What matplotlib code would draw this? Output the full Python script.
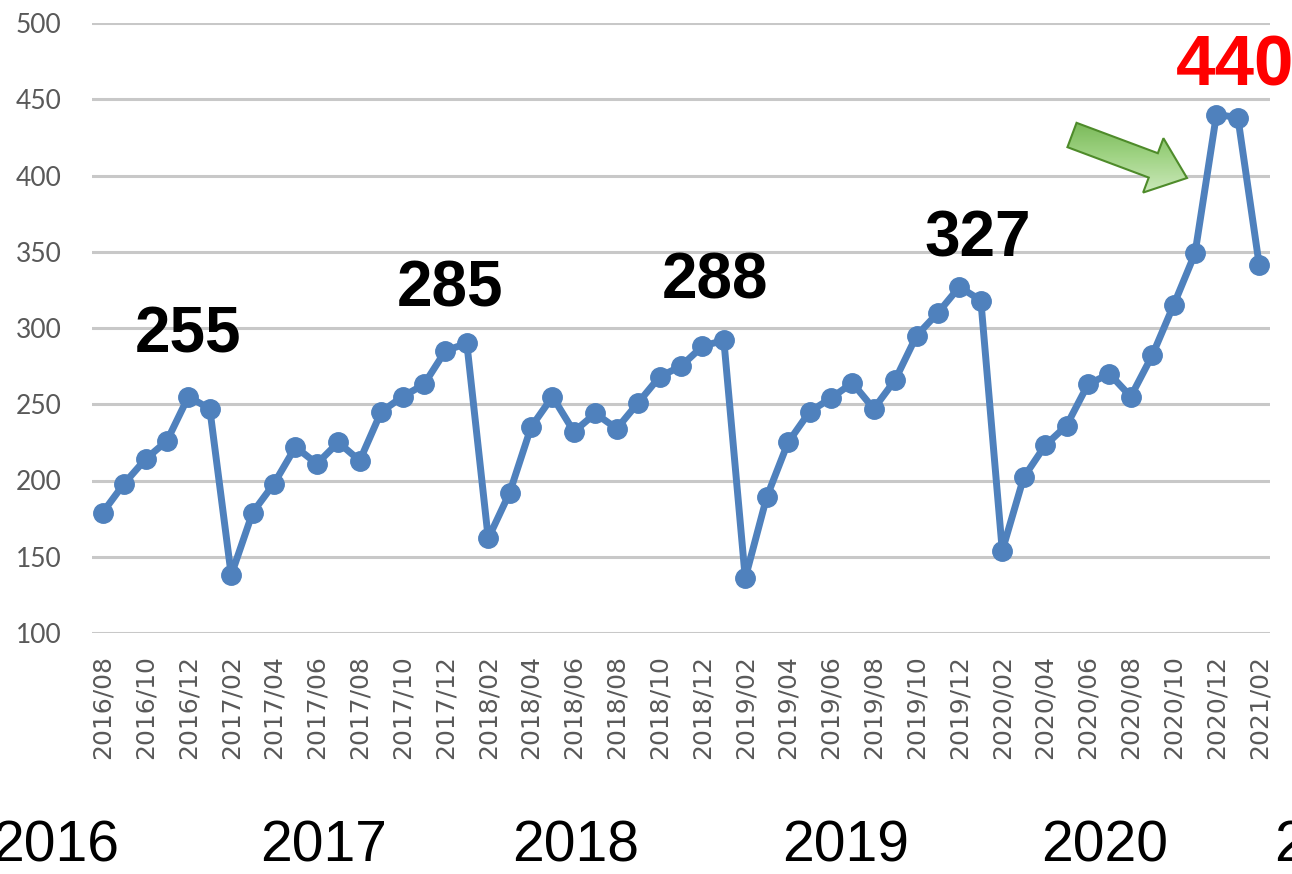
import matplotlib
matplotlib.use('Agg')
import matplotlib.pyplot as plt
import numpy as np
from matplotlib.patches import FancyArrow
from matplotlib.colors import LinearSegmentedColormap
from matplotlib.transforms import blended_transform_factory

# monthly values, 2016/08 .. 2021/02
values = [179, 198, 214, 226, 255, 247, 138,
          179, 198, 222, 211, 225, 213, 245, 255, 263, 285, 290,
          162, 192, 235, 255, 232, 244, 234, 251, 268, 275, 288, 292,
          136, 189, 225, 245, 254, 264, 247, 266, 295, 310, 327, 318,
          154, 202, 223, 236, 263, 270, 255, 282, 315, 349, 440, 438,
          341]

tick_labels = ['2016/08', '2016/10', '2016/12', '2017/02', '2017/04', '2017/06',
               '2017/08', '2017/10', '2017/12', '2018/02', '2018/04', '2018/06',
               '2018/08', '2018/10', '2018/12', '2019/02', '2019/04', '2019/06',
               '2019/08', '2019/10', '2019/12', '2020/02', '2020/04', '2020/06',
               '2020/08', '2020/10', '2020/12', '2021/02']

# peak labels: (index in values, text)
peaks = [(4, '255'), (16, '285'), (28, '288'), (40, '327')]
top_peak = (52, '440')

years = ['2016', '2017', '2018', '2019', '2020', '2021']

x = np.arange(len(values))

fig = plt.figure(figsize=(12.92, 8.74), dpi=100)
ax = fig.add_axes([92 / 1292, 241 / 874, 1178 / 1292, 610 / 874])

ax.plot(x, values, color='#4F81BD', lw=5, marker='o', ms=14,
        solid_joinstyle='round', clip_on=False, zorder=3)

ax.set_xlim(-0.5, len(values) - 0.5)
ax.set_ylim(100, 500)
ax.set_yticks(np.arange(100, 501, 50))
ax.set_xticks(x[::2])
ax.set_xticklabels(tick_labels, rotation=90, fontsize=18, color='#595959',
                   family='DejaVu Sans')
for lab in ax.get_yticklabels():
    lab.set_fontsize(19)
    lab.set_color('#595959')
    lab.set_family('Lato')
ax.tick_params(axis='both', length=0)
ax.tick_params(axis='y', pad=22)
ax.tick_params(axis='x', pad=16)
ax.yaxis.grid(True, color='#c8c8c8', lw=2.2)
ax.set_axisbelow(True)
for s in ax.spines.values():
    s.set_visible(False)

# peak annotations
offsets = {4: (0, 44), 16: (5, 44), 28: (13, 48), 40: (18, 30)}
for i, txt in peaks:
    dx, dy = offsets[i]
    ax.annotate(txt, xy=(i, values[i]), xytext=(dx * 0.72, dy * 0.72),
                textcoords='offset points', ha='center', va='baseline',
                fontsize=46, fontweight='bold', family='Liberation Sans',
                color='black', annotation_clip=False)
ax.annotate(top_peak[1], xy=(top_peak[0], values[top_peak[0]]),
            xytext=(-41 * 0.72, 29 * 0.72), textcoords='offset points',
            ha='left', va='baseline', fontsize=51, fontweight='bold',
            family='Liberation Sans', color='#FF0000', annotation_clip=False)

# green arrow pointing at the peak, drawn on a pixel-sized overlay
ov = fig.add_axes([0, 0, 1, 1], zorder=5)
ov.set_xlim(0, 1292)
ov.set_ylim(874, 0)
ov.axis('off')
arrow = FancyArrow(1072, 135, 115, 43, width=26, head_width=58,
                   head_length=36, length_includes_head=True,
                   facecolor='none', edgecolor='#4E8B2A', lw=1.5, zorder=6)
ov.add_patch(arrow)
grad = LinearSegmentedColormap.from_list('g', ['#d3ecc4', '#9fd383', '#6db04a'])
img = ov.imshow(np.linspace(0, 1, 100).reshape(-1, 1), cmap=grad,
                extent=(1060, 1195, 110, 200), aspect='auto', zorder=5)
img.set_clip_path(arrow)
ov.set_xlim(0, 1292)
ov.set_ylim(874, 0)

# year labels below the axis
trans = blended_transform_factory(ax.transData, fig.transFigure)
year_pos = [-2.2, 10.3, 22.1, 34.7, 46.8]
for yr, xp in zip(years[:-1], year_pos):
    fig.text(xp, 0, yr, transform=trans, ha='center', va='bottom',
             fontsize=41, family='Liberation Sans', color='black')
fig.text(54.7, 0, years[-1], transform=trans, ha='left', va='bottom',
         fontsize=41, family='Liberation Sans', color='black')

fig.savefig('out.png', dpi=100)
